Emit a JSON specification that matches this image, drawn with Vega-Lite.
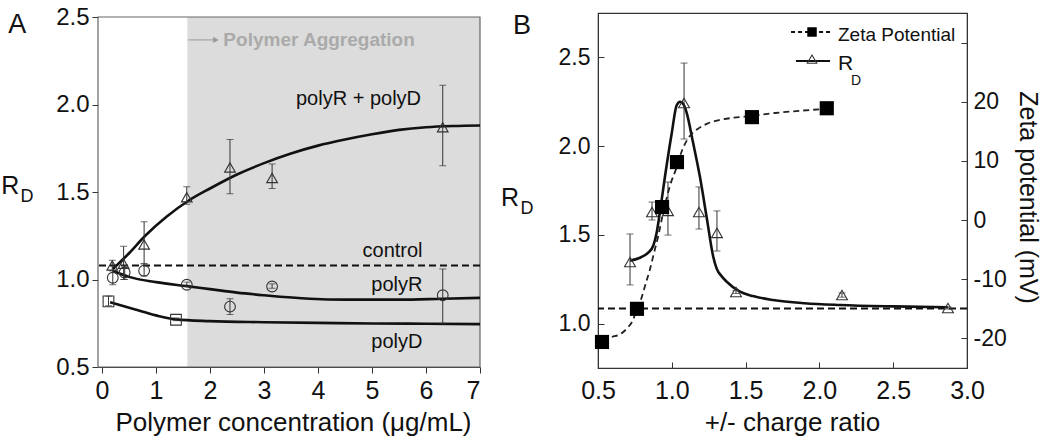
{
  "$schema": "https://vega.github.io/schema/vega-lite/v6.json",
  "padding": {"left": 1, "top": 5, "right": 5, "bottom": 5},
  "spacing": 118,
  "bounds": "flush",
  "config": {
    "font": "Liberation Sans",
    "view": {"stroke": null},
    "axis": {"grid": false, "labelColor": "#111", "titleColor": "#111", "titleFontWeight": "normal", "domainColor": "#333", "tickColor": "#333", "labelFont": "Liberation Sans", "titleFont": "Liberation Sans"}
  },
  "datasets": {
    "one": [{}],
    "a_pts": [
      {"s": "tri", "x": 0.19, "y": 1.08, "lo": 1.05, "hi": 1.11},
      {"s": "tri", "x": 0.40, "y": 1.09, "lo": 1.00, "hi": 1.19},
      {"s": "tri", "x": 0.78, "y": 1.20, "lo": 1.09, "hi": 1.33},
      {"s": "tri", "x": 1.57, "y": 1.47, "lo": 1.43, "hi": 1.53},
      {"s": "tri", "x": 2.37, "y": 1.64, "lo": 1.49, "hi": 1.80},
      {"s": "tri", "x": 3.15, "y": 1.58, "lo": 1.52, "hi": 1.66},
      {"s": "tri", "x": 6.31, "y": 1.87, "lo": 1.65, "hi": 2.11},
      {"s": "circ", "x": 0.20, "y": 1.01, "lo": 0.97, "hi": 1.05},
      {"s": "circ", "x": 0.42, "y": 1.04, "lo": 1.00, "hi": 1.08},
      {"s": "circ", "x": 0.78, "y": 1.05, "lo": 1.02, "hi": 1.09},
      {"s": "circ", "x": 1.57, "y": 0.97, "lo": 0.96, "hi": 0.985},
      {"s": "circ", "x": 2.37, "y": 0.845, "lo": 0.80, "hi": 0.89},
      {"s": "circ", "x": 3.15, "y": 0.96, "lo": 0.95, "hi": 0.975},
      {"s": "circ", "x": 6.31, "y": 0.91, "lo": 0.75, "hi": 1.06},
      {"s": "sq", "x": 0.12, "y": 0.875, "lo": 0.85, "hi": 0.905},
      {"s": "sq", "x": 1.37, "y": 0.77, "lo": 0.765, "hi": 0.78}
    ],
    "a_curves": [
      {"s": "polyRD", "x": 0.2, "y": 1.06}, {"s": "polyRD", "x": 0.5, "y": 1.15}, {"s": "polyRD", "x": 0.8, "y": 1.25},
      {"s": "polyRD", "x": 1.2, "y": 1.36}, {"s": "polyRD", "x": 1.6, "y": 1.45}, {"s": "polyRD", "x": 2.0, "y": 1.52},
      {"s": "polyRD", "x": 2.5, "y": 1.60}, {"s": "polyRD", "x": 3.0, "y": 1.665}, {"s": "polyRD", "x": 3.5, "y": 1.72},
      {"s": "polyRD", "x": 4.0, "y": 1.765}, {"s": "polyRD", "x": 4.5, "y": 1.80}, {"s": "polyRD", "x": 5.0, "y": 1.83},
      {"s": "polyRD", "x": 5.5, "y": 1.855}, {"s": "polyRD", "x": 6.0, "y": 1.87}, {"s": "polyRD", "x": 6.5, "y": 1.877},
      {"s": "polyRD", "x": 7.0, "y": 1.88},
      {"s": "polyR", "x": 0.2, "y": 1.05}, {"s": "polyR", "x": 0.5, "y": 1.015}, {"s": "polyR", "x": 1.0, "y": 0.985},
      {"s": "polyR", "x": 1.57, "y": 0.962}, {"s": "polyR", "x": 2.0, "y": 0.945}, {"s": "polyR", "x": 2.5, "y": 0.925},
      {"s": "polyR", "x": 3.0, "y": 0.91}, {"s": "polyR", "x": 3.85, "y": 0.89}, {"s": "polyR", "x": 4.5, "y": 0.885},
      {"s": "polyR", "x": 5.5, "y": 0.885}, {"s": "polyR", "x": 6.3, "y": 0.89}, {"s": "polyR", "x": 7.0, "y": 0.895},
      {"s": "polyD", "x": 0.15, "y": 0.87}, {"s": "polyD", "x": 0.6, "y": 0.83}, {"s": "polyD", "x": 1.0, "y": 0.795},
      {"s": "polyD", "x": 1.37, "y": 0.772}, {"s": "polyD", "x": 2.0, "y": 0.762}, {"s": "polyD", "x": 3.0, "y": 0.756},
      {"s": "polyD", "x": 4.0, "y": 0.752}, {"s": "polyD", "x": 5.0, "y": 0.749}, {"s": "polyD", "x": 6.0, "y": 0.747},
      {"s": "polyD", "x": 7.0, "y": 0.745}
    ],
    "a_labels": [
      {"t": "polyR + polyD", "x": 4.75, "y": 2.03},
      {"t": "control", "x": 5.38, "y": 1.163},
      {"t": "polyR", "x": 5.46, "y": 0.969},
      {"t": "polyD", "x": 5.46, "y": 0.645}
    ],
    "b_rd": [
      {"x": 0.717, "y": 1.347, "lo": 1.218, "hi": 1.505},
      {"x": 0.866, "y": 1.629, "lo": 1.584, "hi": 1.685},
      {"x": 0.974, "y": 1.635, "lo": 1.499, "hi": 1.798},
      {"x": 1.083, "y": 2.243, "lo": 2.04, "hi": 2.468},
      {"x": 1.184, "y": 1.629, "lo": 1.533, "hi": 1.77},
      {"x": 1.306, "y": 1.511, "lo": 1.409, "hi": 1.635},
      {"x": 1.435, "y": 1.178, "lo": 1.17, "hi": 1.186},
      {"x": 2.153, "y": 1.161, "lo": 1.149, "hi": 1.173},
      {"x": 2.871, "y": 1.088, "lo": 1.082, "hi": 1.094}
    ],
    "b_rdcurve": [
      {"x": 0.717, "y": 1.355}, {"x": 0.78, "y": 1.37}, {"x": 0.84, "y": 1.40}, {"x": 0.875, "y": 1.44},
      {"x": 0.897, "y": 1.51}, {"x": 0.925, "y": 1.66}, {"x": 0.954, "y": 1.83}, {"x": 0.999, "y": 2.07},
      {"x": 1.033, "y": 2.23}, {"x": 1.056, "y": 2.25}, {"x": 1.08, "y": 2.235}, {"x": 1.10, "y": 2.19},
      {"x": 1.144, "y": 2.02}, {"x": 1.19, "y": 1.83}, {"x": 1.236, "y": 1.60}, {"x": 1.28, "y": 1.38},
      {"x": 1.304, "y": 1.31}, {"x": 1.34, "y": 1.265}, {"x": 1.372, "y": 1.236}, {"x": 1.462, "y": 1.18},
      {"x": 1.55, "y": 1.155}, {"x": 1.686, "y": 1.133}, {"x": 1.9, "y": 1.115}, {"x": 2.14, "y": 1.105},
      {"x": 2.5, "y": 1.097}, {"x": 2.87, "y": 1.092}
    ],
    "b_zeta": [
      {"x": 0.527, "z": -20.6}, {"x": 0.764, "z": -15.0}, {"x": 0.934, "z": 2.2},
      {"x": 1.035, "z": 9.8}, {"x": 1.543, "z": 17.4}, {"x": 2.05, "z": 18.9}
    ],
    "b_zcurve": [
      {"x": 0.527, "z": -20.0}, {"x": 0.60, "z": -19.7}, {"x": 0.65, "z": -19.3}, {"x": 0.70, "z": -18.2},
      {"x": 0.737, "z": -16.9}, {"x": 0.764, "z": -15.0}, {"x": 0.79, "z": -13.5}, {"x": 0.82, "z": -11.0},
      {"x": 0.85, "z": -8.5}, {"x": 0.88, "z": -5.5}, {"x": 0.91, "z": -2.5}, {"x": 0.935, "z": 0.5},
      {"x": 0.96, "z": 3.2}, {"x": 0.99, "z": 6.0}, {"x": 1.03, "z": 8.7}, {"x": 1.07, "z": 11.8},
      {"x": 1.11, "z": 13.8}, {"x": 1.17, "z": 15.3}, {"x": 1.24, "z": 16.3}, {"x": 1.32, "z": 16.9},
      {"x": 1.42, "z": 17.3}, {"x": 1.543, "z": 17.6}, {"x": 1.7, "z": 18.1}, {"x": 1.88, "z": 18.5},
      {"x": 2.05, "z": 18.8}
    ]
  },
  "hconcat": [
    {
      "width": 382,
      "height": 354,
      "layer": [
        {
          "data": {"name": "a_curves"},
          "mark": {"type": "line", "interpolate": "monotone", "strokeWidth": 2.6, "color": "#111", "opacity": 0},
          "encoding": {
            "x": {"field": "x", "type": "quantitative", "scale": {"domain": [-0.074, 7], "nice": false, "zero": false},
                  "axis": {"title": "Polymer concentration (μg/mL)", "values": [0, 1, 2, 3, 4, 5, 6, 7], "format": "d", "tickSize": 6, "labelPadding": 5, "labelFontSize": 25, "titleFontSize": 26, "titlePadding": 6, "labelFlush": true, "titleX": 195}},
            "y": {"field": "y", "type": "quantitative", "scale": {"domain": [0.5, 2.5229], "nice": false, "zero": false},
                  "axis": {"title": null, "values": [0.5, 1, 1.5, 2, 2.5], "format": ".1f", "tickSize": 6, "labelPadding": 3, "labelFontSize": 24, "domain": false, "labelFlush": false}},
            "detail": {"field": "s"}
          }
        },
        {
          "data": {"name": "one"},
          "mark": {"type": "rect", "color": "#dcdcdc"},
          "encoding": {
            "x": {"datum": 1.58, "type": "quantitative"},
            "x2": {"datum": 7},
            "y": {"datum": 0.5, "type": "quantitative"},
            "y2": {"datum": 2.5}
          }
        },
        {
          "data": {"name": "one"},
          "mark": {"type": "rect", "filled": false, "color": "#666", "strokeWidth": 1.2},
          "encoding": {
            "x": {"datum": -0.074, "type": "quantitative"},
            "x2": {"datum": 7},
            "y": {"datum": 0.5, "type": "quantitative"},
            "y2": {"datum": 2.5}
          }
        },
        {
          "data": {"name": "one"},
          "mark": {"type": "rule", "strokeDash": [7, 4], "strokeWidth": 2, "color": "#111"},
          "encoding": {
            "y": {"datum": 1.08, "type": "quantitative"}
          }
        },
        {
          "data": {"name": "a_curves"},
          "mark": {"type": "line", "interpolate": "monotone", "strokeWidth": 2.6, "color": "#111"},
          "encoding": {
            "x": {"field": "x", "type": "quantitative"},
            "y": {"field": "y", "type": "quantitative"},
            "detail": {"field": "s"}
          }
        },
        {
          "data": {"name": "a_pts"},
          "mark": {"type": "rule", "color": "#333", "strokeWidth": 1},
          "encoding": {
            "x": {"field": "x", "type": "quantitative"},
            "y": {"field": "lo", "type": "quantitative"},
            "y2": {"field": "hi"}
          }
        },
        {
          "data": {"name": "a_pts"},
          "mark": {"type": "tick", "orient": "horizontal", "size": 7, "thickness": 1, "color": "#333"},
          "encoding": {
            "x": {"field": "x", "type": "quantitative"},
            "y": {"field": "lo", "type": "quantitative"}
          }
        },
        {
          "data": {"name": "a_pts"},
          "mark": {"type": "tick", "orient": "horizontal", "size": 7, "thickness": 1, "color": "#333"},
          "encoding": {
            "x": {"field": "x", "type": "quantitative"},
            "y": {"field": "hi", "type": "quantitative"}
          }
        },
        {
          "data": {"name": "a_pts"},
          "mark": {"type": "point", "filled": false, "color": "#333", "strokeWidth": 1.1, "size": 115, "opacity": 1},
          "encoding": {
            "x": {"field": "x", "type": "quantitative"},
            "y": {"field": "y", "type": "quantitative"},
            "shape": {"field": "s", "type": "nominal", "scale": {"domain": ["tri", "circ", "sq"], "range": ["triangle-up", "circle", "square"]}, "legend": null}
          }
        },
        {
          "data": {"name": "a_labels"},
          "mark": {"type": "text", "fontSize": 20, "color": "#111", "align": "center", "baseline": "middle"},
          "encoding": {
            "x": {"field": "x", "type": "quantitative"},
            "y": {"field": "y", "type": "quantitative"},
            "text": {"field": "t"}
          }
        },
        {
          "data": {"name": "one"},
          "mark": {"type": "text", "fontSize": 19, "fontWeight": "bold", "color": "#aaaaaa", "align": "center", "baseline": "middle"},
          "encoding": {
            "x": {"datum": 4.02, "type": "quantitative"},
            "y": {"datum": 2.369, "type": "quantitative"},
            "text": {"value": "Polymer Aggregation"}
          }
        },
        {
          "data": {"name": "one"},
          "mark": {"type": "rule", "color": "#999", "strokeWidth": 1},
          "encoding": {
            "x": {"datum": 1.6, "type": "quantitative"},
            "x2": {"datum": 2.06},
            "y": {"datum": 2.369, "type": "quantitative"}
          }
        },
        {
          "data": {"name": "one"},
          "mark": {"type": "point", "shape": "triangle-right", "filled": true, "color": "#999", "size": 40, "opacity": 1},
          "encoding": {
            "x": {"datum": 2.11, "type": "quantitative"},
            "y": {"datum": 2.369, "type": "quantitative"}
          }
        },
        {
          "data": {"name": "one"},
          "mark": {"type": "text", "fontSize": 27, "color": "#111", "align": "center", "baseline": "middle"},
          "encoding": {
            "x": {"datum": -1.57, "type": "quantitative"},
            "y": {"datum": 2.454, "type": "quantitative"},
            "text": {"value": "A"}
          }
        },
        {
          "data": {"name": "one"},
          "mark": {"type": "text", "fontSize": 25, "color": "#111", "align": "center", "baseline": "middle"},
          "encoding": {
            "x": {"datum": -1.70, "type": "quantitative"},
            "y": {"datum": 1.534, "type": "quantitative"},
            "text": {"value": "R"}
          }
        },
        {
          "data": {"name": "one"},
          "mark": {"type": "text", "fontSize": 18, "color": "#111", "align": "center", "baseline": "middle"},
          "encoding": {
            "x": {"datum": -1.39, "type": "quantitative"},
            "y": {"datum": 1.471, "type": "quantitative"},
            "text": {"value": "D"}
          }
        }
      ]
    },
    {
      "width": 369,
      "height": 355,
      "view": {"stroke": "#333", "strokeWidth": 1.2},
      "resolve": {"scale": {"y": "independent"}, "axis": {"y": "independent"}},
      "layer": [
        {
          "layer": [
            {
              "data": {"name": "b_rdcurve"},
              "mark": {"type": "line", "interpolate": "monotone", "strokeWidth": 2.6, "color": "#111"},
              "encoding": {
                "x": {"field": "x", "type": "quantitative", "scale": {"domain": [0.5, 3.0], "nice": false, "zero": false},
                      "axis": {"title": "+/- charge ratio", "values": [0.5, 1, 1.5, 2, 2.5, 3], "format": ".1f", "tickSize": -6, "labelPadding": 16, "labelFontSize": 25, "titleFontSize": 26, "titlePadding": 6, "labelFlush": false, "titleX": 194}},
                "y": {"field": "y", "type": "quantitative", "scale": {"domain": [0.75, 2.75], "nice": false, "zero": false},
                      "axis": {"title": null, "values": [1, 1.5, 2, 2.5], "format": ".1f", "tickSize": -6, "labelPadding": 14, "labelFontSize": 23, "labelFlush": false}}
              }
            },
            {
              "data": {"name": "one"},
              "mark": {"type": "rule", "strokeDash": [7, 4], "strokeWidth": 2, "color": "#111"},
              "encoding": {
                "y": {"datum": 1.085, "type": "quantitative"}
              }
            },
            {
              "data": {"name": "b_rd"},
              "mark": {"type": "rule", "color": "#333", "strokeWidth": 1},
              "encoding": {
                "x": {"field": "x", "type": "quantitative"},
                "y": {"field": "lo", "type": "quantitative"},
                "y2": {"field": "hi"}
              }
            },
            {
              "data": {"name": "b_rd"},
              "mark": {"type": "tick", "orient": "horizontal", "size": 7, "thickness": 1, "color": "#333"},
              "encoding": {
                "x": {"field": "x", "type": "quantitative"},
                "y": {"field": "lo", "type": "quantitative"}
              }
            },
            {
              "data": {"name": "b_rd"},
              "mark": {"type": "tick", "orient": "horizontal", "size": 7, "thickness": 1, "color": "#333"},
              "encoding": {
                "x": {"field": "x", "type": "quantitative"},
                "y": {"field": "hi", "type": "quantitative"}
              }
            },
            {
              "data": {"name": "b_rd"},
              "mark": {"type": "point", "shape": "triangle-up", "filled": false, "color": "#333", "strokeWidth": 1.1, "size": 120, "opacity": 1},
              "encoding": {
                "x": {"field": "x", "type": "quantitative"},
                "y": {"field": "y", "type": "quantitative"}
              }
            },
            {
              "data": {"name": "one"},
              "mark": {"type": "rule", "strokeDash": [4, 3], "strokeWidth": 2, "color": "#111"},
              "encoding": {
                "x": {"datum": 1.808, "type": "quantitative"},
                "x2": {"datum": 2.092},
                "y": {"datum": 2.643, "type": "quantitative"}
              }
            },
            {
              "data": {"name": "one"},
              "mark": {"type": "point", "shape": "square", "filled": true, "color": "#000", "size": 90, "opacity": 1},
              "encoding": {
                "x": {"datum": 1.95, "type": "quantitative"},
                "y": {"datum": 2.643, "type": "quantitative"}
              }
            },
            {
              "data": {"name": "one"},
              "mark": {"type": "rule", "strokeWidth": 2, "color": "#111"},
              "encoding": {
                "x": {"datum": 1.841, "type": "quantitative"},
                "x2": {"datum": 2.072},
                "y": {"datum": 2.48, "type": "quantitative"}
              }
            },
            {
              "data": {"name": "one"},
              "mark": {"type": "point", "shape": "triangle-up", "filled": false, "color": "#333", "strokeWidth": 1.1, "size": 90, "opacity": 1},
              "encoding": {
                "x": {"datum": 1.95, "type": "quantitative"},
                "y": {"datum": 2.49, "type": "quantitative"}
              }
            },
            {
              "data": {"name": "one"},
              "mark": {"type": "text", "fontSize": 19, "color": "#111", "align": "left", "baseline": "middle"},
              "encoding": {
                "x": {"datum": 2.126, "type": "quantitative"},
                "y": {"datum": 2.626, "type": "quantitative"},
                "text": {"value": "Zeta Potential"}
              }
            },
            {
              "data": {"name": "one"},
              "mark": {"type": "text", "fontSize": 21, "color": "#111", "align": "left", "baseline": "middle"},
              "encoding": {
                "x": {"datum": 2.126, "type": "quantitative"},
                "y": {"datum": 2.46, "type": "quantitative"},
                "text": {"value": "R"}
              }
            },
            {
              "data": {"name": "one"},
              "mark": {"type": "text", "fontSize": 14, "color": "#111", "align": "left", "baseline": "middle"},
              "encoding": {
                "x": {"datum": 2.214, "type": "quantitative"},
                "y": {"datum": 2.365, "type": "quantitative"},
                "text": {"value": "D"}
              }
            },
            {
              "data": {"name": "one"},
              "mark": {"type": "text", "fontSize": 27, "color": "#111", "align": "center", "baseline": "middle"},
              "encoding": {
                "x": {"datum": -0.015, "type": "quantitative"},
                "y": {"datum": 2.677, "type": "quantitative"},
                "text": {"value": "B"}
              }
            },
            {
              "data": {"name": "one"},
              "mark": {"type": "text", "fontSize": 25, "color": "#111", "align": "center", "baseline": "middle"},
              "encoding": {
                "x": {"datum": -0.096, "type": "quantitative"},
                "y": {"datum": 1.708, "type": "quantitative"},
                "text": {"value": "R"}
              }
            },
            {
              "data": {"name": "one"},
              "mark": {"type": "text", "fontSize": 18, "color": "#111", "align": "center", "baseline": "middle"},
              "encoding": {
                "x": {"datum": 0.019, "type": "quantitative"},
                "y": {"datum": 1.646, "type": "quantitative"},
                "text": {"value": "D"}
              }
            }
          ]
        },
        {
          "layer": [
            {
              "data": {"name": "b_zcurve"},
              "mark": {"type": "line", "interpolate": "monotone", "strokeWidth": 1.8, "strokeDash": [6, 4], "color": "#222"},
              "encoding": {
                "x": {"field": "x", "type": "quantitative"},
                "y": {"field": "z", "type": "quantitative", "scale": {"domain": [-25, 35], "nice": false, "zero": false},
                      "axis": {"orient": "right", "title": "Zeta potential (mV)", "values": [-20, -10, 0, 10, 20, 30], "labelExpr": "datum.value == 30 ? '' : (datum.value < 0 ? '-' + abs(datum.value) : '' + datum.value)", "tickSize": -6, "labelPadding": 12, "labelFontSize": 23, "titleFontSize": 25, "titlePadding": 8, "labelFlush": false, "titleY": 184}}
              }
            },
            {
              "data": {"name": "b_zeta"},
              "mark": {"type": "point", "shape": "square", "filled": true, "color": "#000", "size": 200, "opacity": 1},
              "encoding": {
                "x": {"field": "x", "type": "quantitative"},
                "y": {"field": "z", "type": "quantitative"}
              }
            }
          ]
        }
      ]
    }
  ]
}
